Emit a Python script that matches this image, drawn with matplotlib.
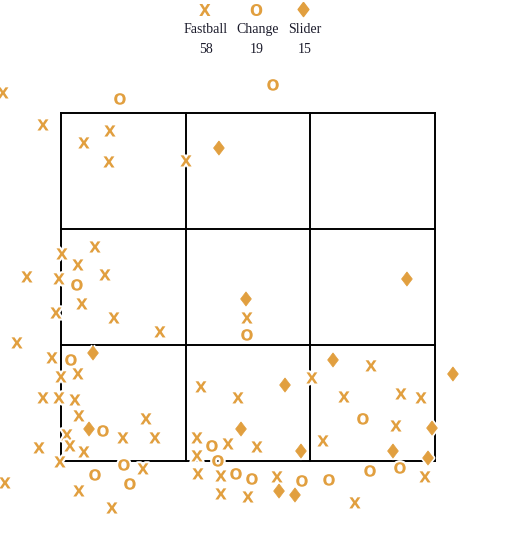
import matplotlib.pyplot as plt
import matplotlib.patheffects as pe
import matplotlib.transforms as mtrans

# --- pitch locations, in strike-zone cells (zone spans 0..3 both ways) ---
fastball_x = [-0.54, -0.465, -0.144, 0.184, 0.393, 0.385, 1.003,
              0.008, 0.273, 0.136, -0.273, -0.016, 0.353, 0.168, -0.040,
              0.425, 0.794, -0.353, 1.492,
              -0.072, 0.000, 0.136, -0.144, -0.016, 0.112, 0.144, 0.682,
              0.497, 0.754, 0.048, 0.072, 0.184, -0.176, -0.008, 0.658,
              0.144, -0.449, 0.409,
              2.487, 2.013, 1.123, 1.420, 2.270, 2.727, 2.888, 2.687,
              1.091, 1.340, 1.572, 2.102, 1.091, 1.099, 1.283, 1.733,
              2.920, 1.283, 1.500, 2.358]
fastball_y = [2.95, 3.181, 2.905, 2.750, 2.853, 2.586, 2.595,
              1.793, 1.853, 1.698, 1.595, 1.578, 1.612, 1.362, 1.284,
              1.241, 1.121, 1.026, 1.241,
              0.897, 0.733, 0.759, 0.552, 0.552, 0.534, 0.397, 0.371,
              0.207, 0.207, 0.233, 0.138, 0.086, 0.121, 0.000, -0.060,
              -0.250, -0.181, -0.397,
              0.828, 0.724, 0.647, 0.552, 0.560, 0.586, 0.552, 0.310,
              0.207, 0.155, 0.129, 0.181, 0.052, -0.103, -0.121, -0.129,
              -0.129, -0.276, -0.302, -0.353]

change_x = [0.473, 1.701, 0.128, 1.492, 0.080, 0.337, 0.505, 0.273, 0.553,
            2.422, 1.211, 1.259, 1.404, 1.532, 1.933, 2.150, 2.479, 2.719]
change_y = [3.129, 3.250, 1.526, 1.095, 0.879, 0.267, -0.026, -0.112, -0.190,
            0.371, 0.138, 0.009, -0.103, -0.147, -0.164, -0.155, -0.078, -0.052]

slider_x = [1.267, 1.484, 2.775, 0.257, 0.225, 2.182, 3.144, 1.797,
            2.976, 1.444, 1.925, 2.663, 2.944, 1.749, 1.877]
slider_y = [2.698, 1.397, 1.569, 0.931, 0.276, 0.871, 0.750, 0.655,
            0.284, 0.276, 0.086, 0.086, 0.026, -0.259, -0.293]

pitch_names = ['Fastball', 'Change', 'Slider']
pitch_counts = [58, 19, 15]
# ---------------------------------------------------------------------

ORANGE = '#E19F3F'
TEXT = '#1c1c2c'
FS = 11
halo = [pe.withStroke(linewidth=3, foreground='white')]
DIAMOND = [(0, 1), (0.76, 0), (0, -1), (-0.76, 0), (0, 1)]
DMS = 10.2

fig = plt.figure(figsize=(5.26, 5.56), dpi=100)
ax = fig.add_axes([0, 0, 1, 1])
ax.set_xlim(-0.489, 3.730)
ax.set_ylim(-0.819, 3.974)
ax.axis('off')

# nudge letters down so the cap centre sits on the point
nudge = ax.transData + mtrans.ScaledTranslation(0, -2 / 100, fig.dpi_scale_trans)

# 3x3 zone grid
for v in range(4):
    ax.plot([v, v], [0, 3], color='black', lw=1.4, zorder=1)
    ax.plot([0, 3], [v, v], color='black', lw=1.4, zorder=1)

for x, y in zip(fastball_x, fastball_y):
    ax.text(x, y, 'X', color=ORANGE, fontsize=FS, fontweight='bold',
            ha='center', va='center', zorder=3, path_effects=halo,
            transform=nudge)
for x, y in zip(change_x, change_y):
    ax.text(x, y, 'O', color=ORANGE, fontsize=FS, fontweight='bold',
            ha='center', va='center', zorder=3, path_effects=halo,
            transform=nudge)
ax.plot(slider_x, slider_y, ls='none', marker=DIAMOND, ms=DMS, color=ORANGE,
        mec=ORANGE, mew=0.5, zorder=3, path_effects=halo)

# key at the top
key_x = [0.388, 0.486, 0.576]
fig.text(key_x[0], 0.980, 'X', color=ORANGE, fontsize=FS, fontweight='bold',
         ha='center', va='center')
fig.text(key_x[1], 0.980, 'O', color=ORANGE, fontsize=FS, fontweight='bold',
         ha='center', va='center')
fig.lines.append(plt.Line2D([key_x[2]], [0.984], transform=fig.transFigure,
                            ls='none', marker=DIAMOND, ms=DMS, color=ORANGE))
for kx, name, n in zip(key_x, pitch_names, pitch_counts):
    fig.text(kx + 0.003, 0.947, name, color=TEXT, fontsize=10,
             family='Liberation Serif', ha='center', va='center')
    fig.text(kx + 0.003, 0.911, str(n), color=TEXT, fontsize=10,
             family='Liberation Serif', ha='center', va='center')

fig.savefig('out.png', dpi=100)
